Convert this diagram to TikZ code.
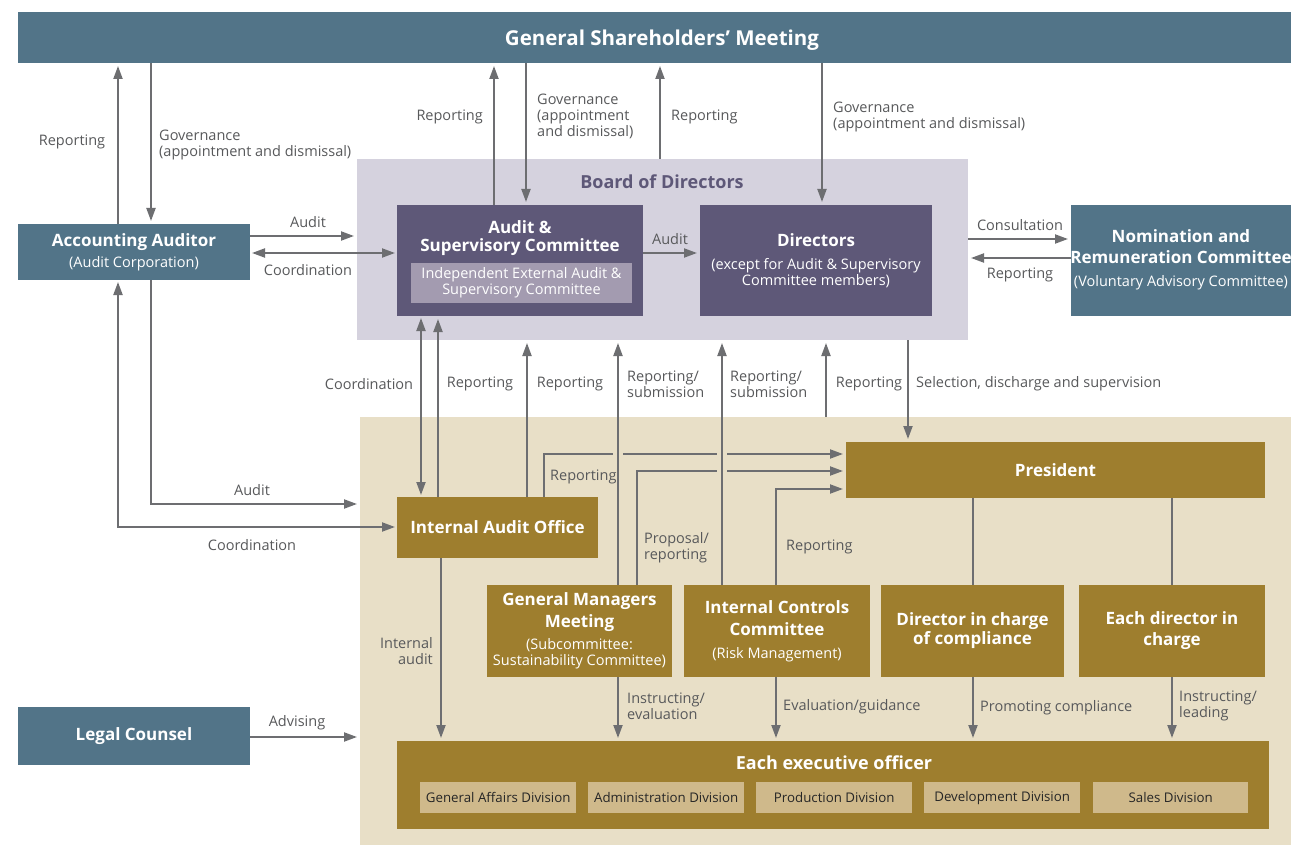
\documentclass[tikz,border=0pt]{standalone}
\usepackage{fontspec}
\setmainfont{Open Sans}
\usetikzlibrary{arrows.meta}
\definecolor{steel}{HTML}{527488}
\definecolor{lavbg}{HTML}{D5D2DE}
\definecolor{purp}{HTML}{5E5878}
\definecolor{lavin}{HTML}{A39BB0}
\definecolor{tanbg}{HTML}{E8DFC7}
\definecolor{gold}{HTML}{9E7E2E}
\definecolor{divcol}{HTML}{CFB98B}
\definecolor{arrgray}{HTML}{6D6E71}
\definecolor{labgray}{HTML}{58595B}
\newcommand{\bxtitle}{\fontsize{17}{19}\selectfont\bfseries}
\newcommand{\bxsub}{\fontsize{14.5}{16}\selectfont}
\begin{document}
\begin{tikzpicture}[x=1pt,y=-1pt,
  box/.style={anchor=north west,inner sep=0pt,outer sep=0pt,text=white,align=center,font=\bxsub},
  lab/.style={inner sep=0pt,text=labgray,font=\fontsize{14.5}{16}\selectfont},
  arr/.style={draw=arrgray,line width=2pt,shorten >=3pt,-{Triangle[length=13pt,width=9pt]}},
  dbl/.style={draw=arrgray,line width=2pt,shorten >=2pt,shorten <=2pt,{Triangle[length=13pt,width=9pt]}-{Triangle[length=13pt,width=9pt]}},
  plainline/.style={draw=arrgray,line width=2pt},
  divbox/.style={anchor=north west,inner sep=0pt,fill=divcol,minimum width=156pt,minimum height=31pt,text=black!85,font=\fontsize{13.3}{15}\selectfont}]
\useasboundingbox (0,0) rectangle (1291,845);
\fill[white] (0,0) rectangle (1291,845);
% backgrounds
\node[box,fill=lavbg,minimum width=611pt,minimum height=181pt] (board) at (357,159) {};
\node[box,fill=tanbg,minimum width=931pt,minimum height=428pt] (execbg) at (360,417) {};
\node[text=purp,font=\fontsize{18}{20}\selectfont\bfseries,inner sep=0pt] (boardlab) at (662,182) {Board of Directors};
% top boxes
\node[box,fill=steel,minimum width=1273pt,minimum height=51pt] (gsm) at (18,12) {};
\node[text=white,font=\fontsize{20.5}{23}\selectfont\bfseries,inner sep=0pt] (gsmlab) at (662,40) {General Shareholders’ Meeting};
\node[box,fill=steel,minimum width=232pt,minimum height=56pt] (aa) at (18,224) {{\bxtitle Accounting Auditor}\\[5pt](Audit Corporation)};
\node[box,fill=purp,minimum width=246pt,minimum height=111pt] (asc) at (397,205) {};
\node[text=white,align=center,font=\fontsize{17}{18}\selectfont\bfseries,inner sep=0pt] (asctitle) at (520,238) {Audit \&\\Supervisory Committee};
\node[box,fill=lavin,minimum width=221pt,minimum height=40pt] (asci) at (411,263) {Independent External Audit \&\\Supervisory Committee};
\node[box,fill=purp,minimum width=232pt,minimum height=111pt] (dir) at (700,205) {{\bxtitle Directors}\\[7pt](except for Audit \& Supervisory\\Committee members)};
\node[box,fill=steel,minimum width=220pt,minimum height=111pt] (nrc) at (1071,205) {};
\node[text=white,align=center,inner sep=0pt,font=\bxsub] (nrctext) at (1181,260) {{\bxtitle Nomination and}\\[5pt]{\bxtitle Remuneration Committee}\\[7pt](Voluntary Advisory Committee)};
\node[box,fill=steel,minimum width=232pt,minimum height=58pt,font=\bxtitle] (lc) at (18,707) {Legal Counsel};
% executive boxes
\node[box,fill=gold,minimum width=419pt,minimum height=56pt,font=\bxtitle] (pres) at (846,442) {President};
\node[box,fill=gold,minimum width=201pt,minimum height=61pt,font=\bxtitle] (iao) at (397,497) {Internal Audit Office};
\node[box,fill=gold,minimum width=185pt,minimum height=92pt] (gmm) at (487,585) {{\bxtitle General Managers}\\[4pt]{\bxtitle Meeting}\\[6pt](Subcommittee:\\Sustainability Committee)};
\node[box,fill=gold,minimum width=186pt,minimum height=92pt] (icc) at (684,585) {{\bxtitle Internal Controls}\\[6pt]{\bxtitle Committee}\\[7pt](Risk Management)};
\node[box,fill=gold,minimum width=183pt,minimum height=92pt,font=\bxtitle] (dic) at (881,585) {Director in charge\\of compliance};
\node[box,fill=gold,minimum width=186pt,minimum height=92pt,font=\bxtitle] (edic) at (1079,585) {Each director in\\[2pt]charge};
\node[box,fill=gold,minimum width=872pt,minimum height=88pt] (eeo) at (397,741) {};
\node[text=white,font=\fontsize{18}{20}\selectfont\bfseries,inner sep=0pt] (eeotitle) at (834,763) {Each executive officer};
\node[divbox] (d1) at (420,782) {General Affairs Division};
\node[divbox] (d2) at (588,782) {Administration Division};
\node[divbox] (d3) at (756,782) {Production Division};
\node[divbox] (d4) at (924,782) {Development Division};
\node[divbox,minimum width=155pt] (d5) at (1093,782) {Sales Division};
% connectors top
\draw[arr] (aa.north -| 118,0) -- (gsm.south -| 118,0);
\draw[arr] (gsm.south -| 151,0) -- (aa.north -| 151,0);
\draw[arr] (asc.north -| 494,0) -- (gsm.south -| 494,0);
\draw[arr] (gsm.south -| 526,0) -- (asc.north -| 526,0);
\draw[arr] (board.north -| 660,0) -- (gsm.south -| 660,0);
\draw[arr] (gsm.south -| 822,0) -- (dir.north -| 822,0);
\draw[arr] (aa.east |- 0,236) -- (board.west |- 0,236);
\draw[dbl] (aa.east |- 0,253) -- (asc.west |- 0,253);
\draw[arr] (asc.east |- 0,253) -- (dir.west |- 0,253);
\draw[arr] (board.east |- 0,239) -- (nrc.west |- 0,239);
\draw[arr] (nrc.west |- 0,258) -- (board.east |- 0,258);
% middle
\draw[dbl] (asc.south -| 421,0) -- (iao.north -| 421,0);
\draw[arr] (iao.north -| 438,0) -- (asc.south -| 438,0);
\draw[arr] (iao.north -| 527,0) -- (board.south -| 527,0);
\draw[arr] (gmm.north -| 618,0) -- (board.south -| 618,0);
\draw[arr] (icc.north -| 722,0) -- (board.south -| 722,0);
\draw[arr] (execbg.north -| 826,0) -- (board.south -| 826,0);
\draw[arr] (board.south -| 908,0) -- (pres.north -| 908,0);
\draw[arr] (iao.north -| 544,0) |- (613,454) (623,454) -- (717,454) (727,454) -- (pres.west |- 0,454);
\draw[arr] (gmm.north -| 637,0) |- (717,471) (727,471) -- (pres.west |- 0,471);
\draw[arr] (icc.north -| 776,0) |- (pres.west |- 0,489);
\draw[plainline] (pres.south -| 973,0) -- (dic.north -| 973,0);
\draw[plainline] (pres.south -| 1172,0) -- (edic.north -| 1172,0);
% bottom
\draw[arr] (iao.south -| 441,0) -- (eeo.north -| 441,0);
\draw[arr] (gmm.south -| 618,0) -- (eeo.north -| 618,0);
\draw[arr] (icc.south -| 776,0) -- (eeo.north -| 776,0);
\draw[arr] (dic.south -| 973,0) -- (eeo.north -| 973,0);
\draw[arr] (edic.south -| 1172,0) -- (eeo.north -| 1172,0);
% left
\draw[arr] (aa.south -| 151,0) |- (execbg.west |- 0,504);
\draw[dbl] (aa.south -| 118,0) |- (iao.west |- 0,527);
\draw[arr] (lc.east |- 0,737) -- (execbg.west |- 0,737);
% labels
\node[lab] (l1) at (72,142) {Reporting};
\node[lab,anchor=west,align=left] (l2) at (159,145) {Governance\\(appointment and dismissal)};
\node[lab,anchor=east] (l3) at (483,117) {Reporting};
\node[lab,anchor=west,align=left] (l4) at (537,116) {Governance\\(appointment\\and dismissal)};
\node[lab,anchor=west] (l5) at (671,117) {Reporting};
\node[lab,anchor=west,align=left] (l6) at (833,117) {Governance\\(appointment and dismissal)};
\node[lab] (l7) at (308,222) {Audit};
\node[lab] (l8) at (308,270) {Coordination};
\node[lab] (l9) at (670,239) {Audit};
\node[lab] (l10) at (1020,225) {Consultation};
\node[lab] (l11) at (1020,275) {Reporting};
\node[lab] (l12) at (369,384) {Coordination};
\node[lab] (l13) at (480,384) {Reporting};
\node[lab] (l14) at (570,384) {Reporting};
\node[lab,anchor=west,align=left] (l15) at (627,384) {Reporting/\\submission};
\node[lab,anchor=west,align=left] (l16) at (730,384) {Reporting/\\submission};
\node[lab] (l17) at (869,384) {Reporting};
\node[lab,anchor=west] (l18) at (916,384) {Selection, discharge and supervision};
\node[lab,anchor=west] (l19) at (550,477) {Reporting};
\node[lab] (l20) at (252,490) {Audit};
\node[lab] (l21) at (252,545) {Coordination};
\node[lab,anchor=west,align=left] (l22) at (644,548) {Proposal/\\reporting};
\node[lab,anchor=west] (l23) at (786,547) {Reporting};
\node[lab,anchor=east,align=right] (l24) at (433,651) {Internal\\audit};
\node[lab,anchor=west,align=left] (l25) at (627,706) {Instructing/\\evaluation};
\node[lab,anchor=west] (l26) at (783,707) {Evaluation/guidance};
\node[lab,anchor=west] (l27) at (980,708) {Promoting compliance};
\node[lab,anchor=west,align=left] (l28) at (1179,706) {Instructing/\\leading};
\node[lab] (l29) at (297,723) {Advising};
\end{tikzpicture}
\end{document}
